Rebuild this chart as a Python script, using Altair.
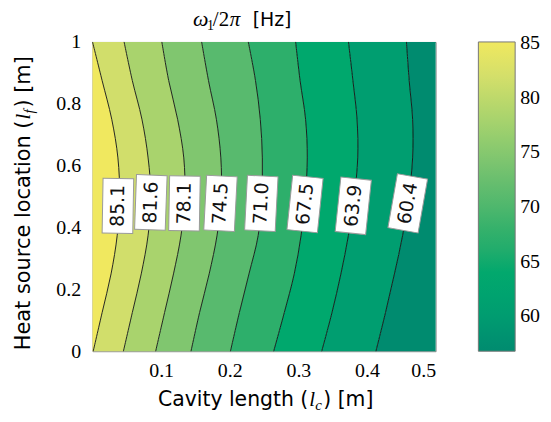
import altair as alt
import pandas as pd

# ---------------- data ----------------
levels = [85.1, 81.6, 78.1, 74.5, 71.0, 67.5, 63.9, 60.4]   # labelled contour levels
level_min = 56.8                                            # bottom of colour bar
band_colors = ["#f0e85f", "#d1de6b", "#a9d36d", "#80c66f", "#58ba6e",
               "#2daf6b", "#00a86d", "#009e70", "#008b6f"]

y_samples = [0.0, 0.125, 0.25, 0.375, 0.5, 0.625, 0.75, 0.875, 1.0]
line_x = [
    [0.001, 0.014, 0.027, 0.036, 0.0395, 0.037, 0.028, 0.014, 0.0],          # 85.1
    [0.045, 0.058, 0.071, 0.081, 0.085, 0.081, 0.072, 0.058, 0.046],         # 81.6
    [0.092, 0.105, 0.118, 0.129, 0.1345, 0.133, 0.124, 0.111, 0.101],        # 78.1
    [0.1435, 0.156, 0.170, 0.1815, 0.1875, 0.187, 0.1805, 0.169, 0.159],     # 74.5
    [0.201, 0.214, 0.228, 0.2415, 0.2465, 0.2475, 0.2445, 0.2375, 0.227],    # 71.0
    [0.264, 0.2795, 0.294, 0.304, 0.310, 0.313, 0.3105, 0.3025, 0.296],      # 67.5
    [0.334, 0.349, 0.362, 0.373, 0.3815, 0.3865, 0.3855, 0.3795, 0.373],     # 63.9
    [0.413, 0.427, 0.440, 0.452, 0.461, 0.4665, 0.4665, 0.4615, 0.4575],     # 60.4
]

label_x = [0.037, 0.085, 0.134, 0.1865, 0.246, 0.3097, 0.380, 0.4594]
label_y = [0.470, 0.481, 0.478, 0.478, 0.478, 0.476, 0.470, 0.478]
label_angle = [271, 272, 271, 273, 273, 276, 276, 280]

x_ticks = [0.1, 0.2, 0.3, 0.4, 0.5]
y_ticks = [0, 0.2, 0.4, 0.6, 0.8, 1.0]
cbar_ticks = [60, 65, 70, 75, 80, 85]

# ---------------- tables ----------------
band_values = levels + [level_min]
n = len(y_samples)
band_rows = []
for k, v in enumerate(band_values):
    left = [0.0] * n if k == 0 else line_x[k - 1]
    right = line_x[k] if k < len(levels) else [0.5] * n
    for i in range(n):
        band_rows.append({"band": k, "y": y_samples[i], "xl": left[i], "xr": right[i], "val": v})
band_df = pd.DataFrame(band_rows)

line_rows = []
for k, lv in enumerate(levels):
    for i in range(n):
        line_rows.append({"level": lv, "y": y_samples[i], "x": line_x[k][i]})
line_df = pd.DataFrame(line_rows)

label_df = pd.DataFrame({"lx": label_x, "ly": label_y, "ang": label_angle,
                         "txt": [f"{v:.1f}" for v in levels]})

pairs = sorted(zip(band_values, band_colors))
dom = [p[0] for p in pairs]
rng = [p[1] for p in pairs]

SERIF = "Liberation Serif"
SANS = "DejaVu Sans"

xs = alt.Scale(domain=[0, 0.5], nice=False, zero=False)
ys = alt.Scale(domain=[0, 1], nice=False, zero=False)
xaxis = alt.Axis(title=None, values=x_ticks, format=".1f", labelFont=SERIF, labelFontSize=20,
                 labelColor="black", ticks=False, domain=False, grid=False, labelPadding=9,
                 labelFlush=True)
yaxis = alt.Axis(title=None, values=y_ticks, format="~g", labelFont=SERIF, labelFontSize=20,
                 labelColor="black", ticks=False, domain=False, grid=False, labelPadding=12,
                 labelFlush=False)

legend = alt.Legend(orient="none", legendX=388, legendY=0, direction="vertical", title=None,
                    gradientLength=311, gradientThickness=37, values=cbar_ticks,
                    labelFont=SERIF, labelFontSize=20, labelColor="black", labelOffset=5,
                    gradientStrokeColor="#777", gradientStrokeWidth=1, labelOverlap=False,
                    padding=0)

areas = alt.Chart(band_df).mark_area(orient="horizontal", interpolate="catmull-rom").encode(
    y=alt.Y("y:Q", scale=ys, axis=yaxis),
    x=alt.X("xl:Q", scale=xs, axis=xaxis),
    x2="xr:Q",
    color=alt.Color("val:Q", scale=alt.Scale(domain=dom, range=rng), legend=legend),
    detail="band:N",
)

lines = alt.Chart(line_df).mark_line(interpolate="catmull-rom", color="#111", strokeWidth=0.9).encode(
    x=alt.X("x:Q", scale=xs, axis=xaxis),
    y=alt.Y("y:Q", scale=ys, axis=yaxis),
    detail="level:N",
    order="y:Q",
)

BOX = "M-1,-0.56L1,-0.56L1,0.56L-1,0.56Z"
boxes = alt.Chart(label_df).mark_point(shape=BOX, filled=True, fill="white", stroke="#9a9a9a",
                                       strokeWidth=1, size=3025, opacity=1).encode(
    x=alt.X("lx:Q", scale=xs, axis=xaxis),
    y=alt.Y("ly:Q", scale=ys, axis=yaxis),
    angle=alt.Angle("ang:Q", scale=None),
)

texts = alt.Chart(label_df).mark_text(font=SANS, fontSize=19, align="center", baseline="middle",
                                      color="#111").encode(
    x=alt.X("lx:Q", scale=xs, axis=xaxis),
    y=alt.Y("ly:Q", scale=ys, axis=yaxis),
    text="txt:N",
    angle=alt.Angle("ang:Q", scale=None),
)


def txt(s, x, y, font, size, style="normal", align="left", angle=0):
    return alt.Chart(pd.DataFrame({"t": [s]})).mark_text(
        text=s, font=font, fontSize=size, fontStyle=style, align=align, angle=angle,
        baseline="alphabetic", color="black"
    ).encode(x=alt.value(x), y=alt.value(y))


title_parts = [
    txt("ω", 101, -16, SERIF, 22, "italic"),
    txt("1", 115, -12, SERIF, 14),
    txt("/2", 121, -16, SERIF, 21),
    txt("π", 138, -16, SERIF, 21, "italic"),
    txt("[Hz]", 161, -16, SANS, 19),
]

xtitle_parts = [
    txt("Cavity length (", 217, 366, SANS, 20.5, align="right"),
    txt("l", 218, 366, SERIF, 21, "italic"),
    txt("c", 224, 370, SERIF, 15, "italic"),
    txt(") [m]", 232, 366, SANS, 20.5),
]

ytitle_parts = [
    txt("Heat source location (", -63, 79, SANS, 21, align="right", angle=270),
    txt("l", -63, 78, SERIF, 21, "italic", angle=270),
    txt("f", -59, 72, SERIF, 15, "italic", angle=270),
    txt(") [m]", -63, 66, SANS, 21, angle=270),
]

chart = alt.layer(areas, lines, boxes, texts, *title_parts, *xtitle_parts, *ytitle_parts).properties(
    width=345, height=311,
    autosize=alt.AutoSizeParams(type="none"),
    padding={"left": 85, "top": 33, "right": 108, "bottom": 60},
    background="white",
).configure_view(stroke="#888", strokeWidth=1)

chart.save("out.html", embed_options={"renderer": "svg", "actions": False})
